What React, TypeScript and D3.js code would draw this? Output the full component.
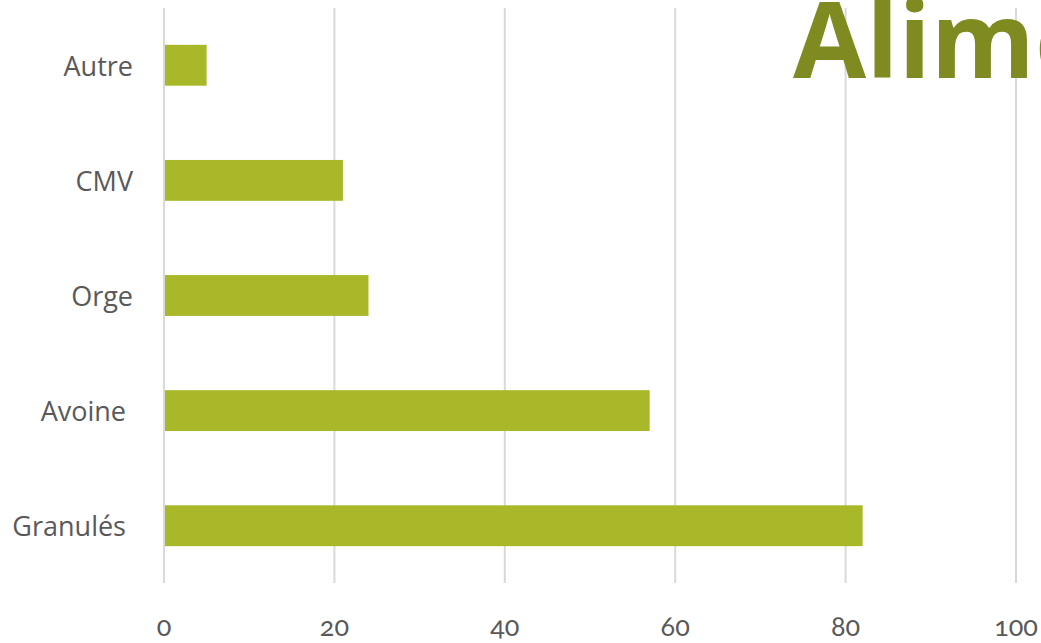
import React from "react";
import * as d3 from "d3";

const categories = ["Autre", "CMV", "Orge", "Avoine ", "Granulés "];
const values = [5, 21, 24, 57, 82];
const xTicks = [0, 20, 40, 60, 80, 100];
const title = "Alimentation";

const W = 1041;
const H = 643;
const M = { left: 164, right: 25, top: 8, bottom: 60 };

export default function App() {
  const x = d3.scaleLinear().domain([0, 100]).range([M.left, W - M.right]);
  const y = d3
    .scaleBand<string>()
    .domain(categories)
    .range([M.top, H - M.bottom])
    .paddingInner(0.645)
    .paddingOuter(0.32);
  const font = "Lato, 'Open Sans', sans-serif";
  return (
    <svg
      width={W}
      height={H}
      style={{ position: "absolute", left: 0, top: 0, background: "#fff" }}
    >
      {xTicks.map((t) => (
        <line
          key={t}
          x1={x(t)}
          x2={x(t)}
          y1={M.top}
          y2={H - M.bottom}
          stroke="#d9d9d9"
          strokeWidth={2}
        />
      ))}
      {categories.map((c, i) => (
        <rect
          key={c}
          x={x(0) + 1}
          y={y(c)}
          width={x(values[i]) - x(0) - 1}
          height={y.bandwidth()}
          fill="#a8b828"
        />
      ))}
      {categories.map((c) => (
        <text
          key={c}
          x={133}
          y={(y(c) as number) + y.bandwidth() / 2}
          textAnchor="end"
          dominantBaseline="central"
          fontFamily="'Open Sans', sans-serif"
          fontSize={27}
          fill="#595959"
          style={{ whiteSpace: "pre" }}
        >
          {c}
        </text>
      ))}
      {xTicks.map((t) => (
        <text
          key={t}
          x={x(t)}
          y={636}
          textAnchor="middle"
          fontFamily={font}
          fontSize={27}
          fill="#595959"
          style={{ fontVariantNumeric: "oldstyle-nums" }}
        >
          {t}
        </text>
      ))}
      <text
        x={793}
        y={78}
        fontFamily="'Open Sans', sans-serif"
        fontWeight={700}
        fontSize={106}
        fill="#7f8a20"
      >
        {title}
      </text>
    </svg>
  );
}
